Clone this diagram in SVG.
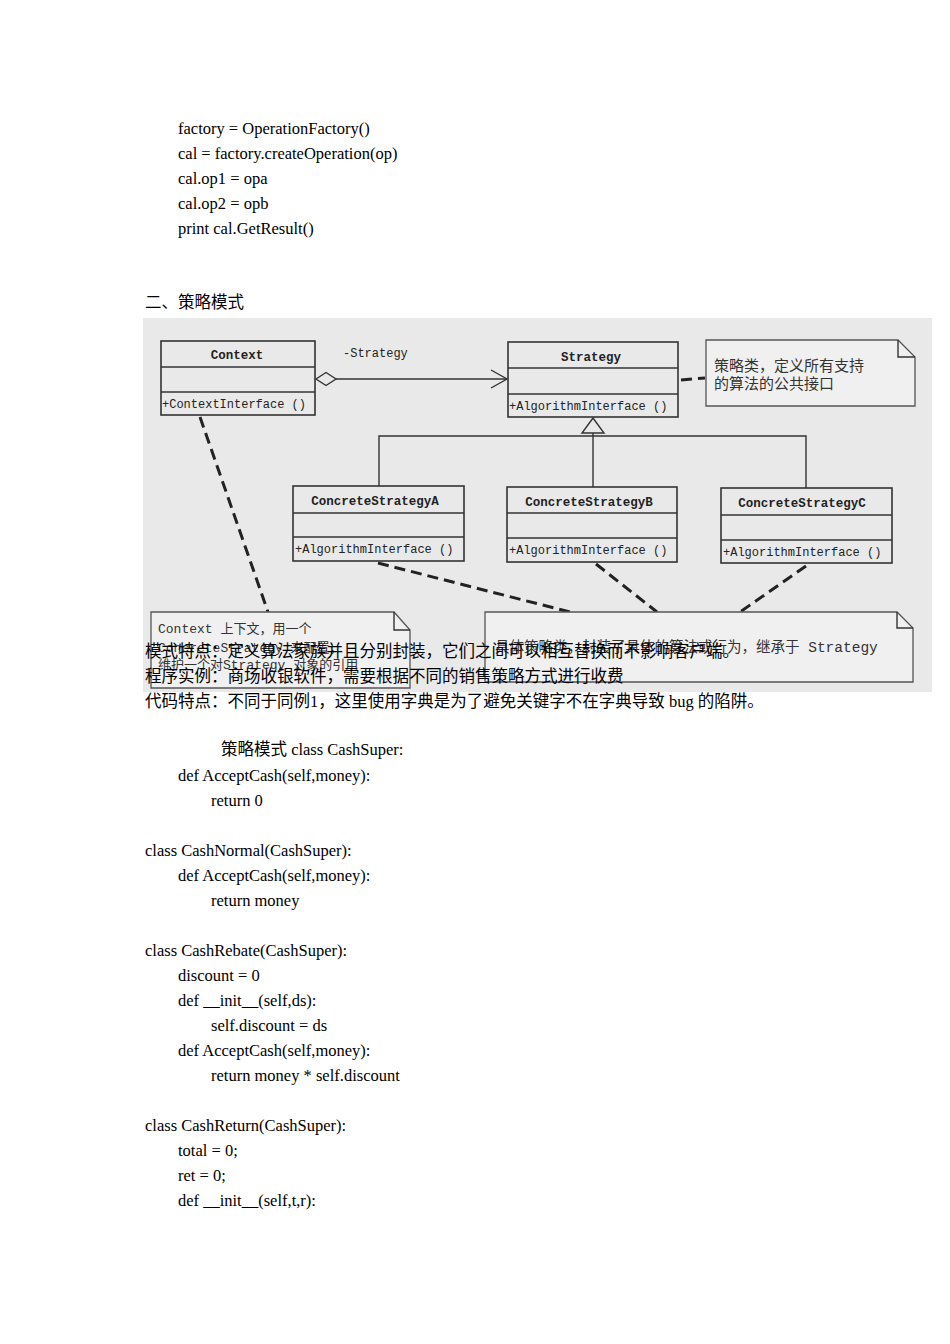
<svg xmlns="http://www.w3.org/2000/svg" width="950" height="1344" viewBox="0 0 950 1344">
<style>
.body{font-family:"Liberation Serif","Noto Sans CJK SC",serif;font-size:16.5px;fill:#000}
.uml{font-family:"Liberation Mono","Noto Sans CJK SC",monospace;font-size:12px;fill:#222}
.ttl{font-family:"Liberation Mono",monospace;font-size:12.5px;font-weight:bold;fill:#222}
.note{font-family:"Liberation Mono","Noto Sans CJK SC",monospace;fill:#333}
.box{fill:none;stroke:#333;stroke-width:1.6}
.ln{fill:none;stroke:#333;stroke-width:1.4}
.dash{fill:none;stroke:#222;stroke-width:3;stroke-dasharray:11 6}
.nt{fill:#f0f0f0;stroke:#555;stroke-width:1.3}
</style>
<rect width="950" height="1344" fill="#fff"/>
<g id="code-top">
<text class="body" x="178" y="134">factory = OperationFactory()</text>
<text class="body" x="178" y="159">cal = factory.createOperation(op)</text>
<text class="body" x="178" y="184">cal.op1 = opa</text>
<text class="body" x="178" y="209">cal.op2 = opb</text>
<text class="body" x="178" y="234">print cal.GetResult()</text>
<text class="body" x="145" y="308">二、策略模式</text>
</g>
<g id="uml-image">
<rect x="143" y="318" width="789" height="374" fill="#e9e9e9"/>
<g id="connectors">
<line class="ln" x1="336" y1="379" x2="507" y2="379"/>
<polygon points="316,379 326,372.5 336,379 326,385.5" fill="#e9e9e9" stroke="#333" stroke-width="1.4"/>
<polyline class="ln" points="491,370 507,379 491,388"/>
<text class="uml" x="343" y="357" fill="#444">-Strategy</text>
<polyline class="ln" points="379,486 379,436 806,436 806,488"/>
<line class="ln" x1="593" y1="433" x2="593" y2="487"/>
<polygon points="593,418 582,433 604,433" fill="#e9e9e9" stroke="#333" stroke-width="1.4"/>
<line class="dash" x1="681" y1="380" x2="705" y2="378"/>
<line class="dash" x1="200" y1="417" x2="268" y2="612"/>
<line class="dash" x1="378" y1="563" x2="570" y2="612"/>
<line class="dash" x1="596" y1="564" x2="657" y2="612"/>
<line class="dash" x1="806" y1="566" x2="740" y2="612"/>
</g>
<g id="context">
<rect class="box" x="161" y="341" width="154" height="74"/>
<line class="box" x1="161" y1="367" x2="315" y2="367"/>
<line class="box" x1="161" y1="392" x2="315" y2="392"/>
<text class="ttl" x="237" y="359" text-anchor="middle">Context</text>
<text class="uml" x="162" y="408">+ContextInterface ()</text>
</g>
<g id="strategy">
<rect class="box" x="508" y="342" width="170" height="75"/>
<line class="box" x1="508" y1="368" x2="678" y2="368"/>
<line class="box" x1="508" y1="394" x2="678" y2="394"/>
<text class="ttl" x="591" y="361" text-anchor="middle">Strategy</text>
<text class="uml" x="509" y="410">+AlgorithmInterface ()</text>
</g>
<g id="concreteA">
<rect class="box" x="293" y="486" width="171" height="75"/>
<line class="box" x1="293" y1="513" x2="464" y2="513"/>
<line class="box" x1="293" y1="537" x2="464" y2="537"/>
<text class="ttl" x="375" y="505" text-anchor="middle">ConcreteStrategyA</text>
<text class="uml" x="295" y="553">+AlgorithmInterface ()</text>
</g>
<g id="concreteB">
<rect class="box" x="507" y="487" width="170" height="75"/>
<line class="box" x1="507" y1="513" x2="677" y2="513"/>
<line class="box" x1="507" y1="538" x2="677" y2="538"/>
<text class="ttl" x="589" y="506" text-anchor="middle">ConcreteStrategyB</text>
<text class="uml" x="509" y="554">+AlgorithmInterface ()</text>
</g>
<g id="concreteC">
<rect class="box" x="721" y="488" width="171" height="75"/>
<line class="box" x1="721" y1="515" x2="892" y2="515"/>
<line class="box" x1="721" y1="540" x2="892" y2="540"/>
<text class="ttl" x="802" y="507" text-anchor="middle">ConcreteStrategyC</text>
<text class="uml" x="723" y="556">+AlgorithmInterface ()</text>
</g>
<g id="note-strategy">
<path class="nt" d="M706,340 H898 L915,357 V406 H706 Z"/>
<polyline class="ln" points="898,340 898,357 915,357" stroke="#555" stroke-width="1.2"/>
<text class="note" x="714" y="371" font-size="15">策略类，定义所有支持</text>
<text class="note" x="714" y="389" font-size="15">的算法的公共接口</text>
</g>
<g id="note-context">
<path class="nt" d="M151,612 H394 L410,630 V688 H151 Z"/>
<polyline class="ln" points="394,612 394,630 410,630" stroke="#555" stroke-width="1.2"/>
<text class="note" x="158" y="633" font-size="13" fill="#555">Context 上下文，用一个</text>
<text class="note" x="158" y="652" font-size="13" fill="#555">ConcreteStrategy 来配置，</text>
<text class="note" x="158" y="669" font-size="13" fill="#555">维护一个对Strategy 对象的引用</text>
</g>
<g id="note-concrete">
<path class="nt" d="M485,612 H897 L913,628 V682 H485 Z"/>
<polyline class="ln" points="897,612 897,628 913,628" stroke="#555" stroke-width="1.2"/>
<text class="note" x="495" y="652" font-size="14.5">具体策略类，封装了具体的算法或行为，继承于 Strategy</text>
</g>
</g>
<g id="code-bottom">
<text class="body" x="145" y="657">模式特点：定义算法家族并且分别封装，它们之间可以相互替换而不影响客户端。</text>
<text class="body" x="145" y="682">程序实例：商场收银软件，需要根据不同的销售策略方式进行收费</text>
<text class="body" x="145" y="707">代码特点：不同于同例1，这里使用字典是为了避免关键字不在字典导致 bug 的陷阱。</text>
<text class="body" x="221" y="755">策略模式 class CashSuper:</text>
<text class="body" x="178" y="781">def AcceptCash(self,money):</text>
<text class="body" x="211" y="806">return 0</text>
<text class="body" x="145" y="856">class CashNormal(CashSuper):</text>
<text class="body" x="178" y="881">def AcceptCash(self,money):</text>
<text class="body" x="211" y="906">return money</text>
<text class="body" x="145" y="956">class CashRebate(CashSuper):</text>
<text class="body" x="178" y="981">discount = 0</text>
<text class="body" x="178" y="1006">def __init__(self,ds):</text>
<text class="body" x="211" y="1031">self.discount = ds</text>
<text class="body" x="178" y="1056">def AcceptCash(self,money):</text>
<text class="body" x="211" y="1081">return money * self.discount</text>
<text class="body" x="145" y="1131">class CashReturn(CashSuper):</text>
<text class="body" x="178" y="1156">total = 0;</text>
<text class="body" x="178" y="1181">ret = 0;</text>
<text class="body" x="178" y="1206">def __init__(self,t,r):</text>
</g>
</svg>
